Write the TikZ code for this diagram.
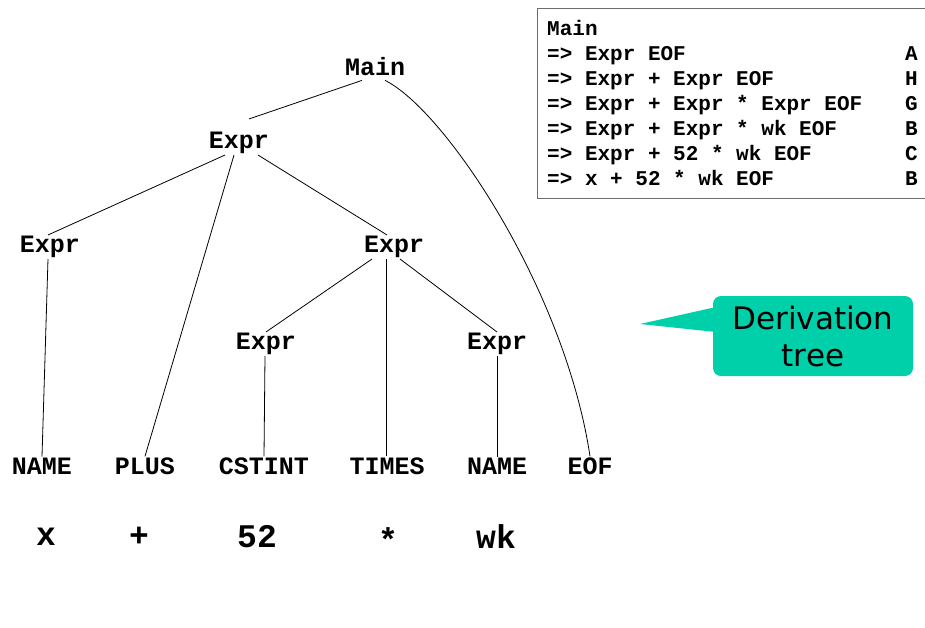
\documentclass[tikz,border=0pt]{standalone}
\usepackage{fontspec}
\setmonofont{Liberation Mono}
\newfontfamily\calloutfont{DejaVu Sans}
\definecolor{callout}{RGB}{0,208,170}
\definecolor{boxline}{RGB}{110,110,110}
\begin{document}
\begin{tikzpicture}[x=1pt,y=-1pt,
  sym/.style={font=\fontsize{25}{28}\selectfont\ttfamily\bfseries,inner sep=1pt},
  tok/.style={font=\fontsize{33}{36}\selectfont\ttfamily\bfseries,inner sep=1pt},
  deriv/.style={font=\fontsize{21}{24}\selectfont\ttfamily\bfseries,anchor=base west,inner sep=0pt},
  edge/.style={draw=black,line width=0.8pt}]
\useasboundingbox (0,0) rectangle (925,627);

% grammar symbols of the tree
\node[sym] (main) at (375,67) {Main};
\node[sym] (e1) at (239,143) {Expr};
\node[sym] (eL) at (50,247) {Expr};
\node[sym] (eR) at (394,247) {Expr};
\node[sym] (eC) at (266,344) {Expr};
\node[sym] (eW) at (497,344) {Expr};
\node[sym] (tName) at (42,466) {NAME};
\node[sym] (tPlus) at (145,466) {PLUS};
\node[sym] (tInt) at (264,466) {CSTINT};
\node[sym] (tTimes) at (387,466) {TIMES};
\node[sym] (tName2) at (497,466) {NAME};
\node[sym] (tEof) at (590,466) {EOF};

% input tokens
\node[tok] (vx) at (46,537) {x};
\node[tok] (vplus) at (139,537) {+};
\node[tok] (v52) at (257,537) {52};
\node[tok] (vtimes) at (388,540) {*};
\node[tok] (vwk) at (496,537) {wk};

% tree edges
\draw[edge] ([shift={(-13,3)}]main.south) -- ([shift={(10,-12)}]e1.north);
\draw[edge] ([shift={(10,3)}]main.south) .. controls (445,110) and (565,290) .. (tEof.north);
\draw[edge] ([xshift=-14pt]e1.south) -- ([xshift=-2pt]eL.north);
\draw[edge] ([xshift=-5pt]e1.south) -- (tPlus.north);
\draw[edge] ([xshift=19pt]e1.south) -- ([xshift=-7pt]eR.north);
\draw[edge] ([xshift=-2pt]eL.south) -- (tName.north);
\draw[edge] ([xshift=-22pt]eR.south) -- (eC.north);
\draw[edge] ([xshift=-8pt]eR.south) -- ([xshift=-1pt]tTimes.north);
\draw[edge] ([xshift=6pt]eR.south) -- (eW.north);
\draw[edge] ([xshift=-1pt]eC.south) -- (tInt.north);
\draw[edge] (eW.south) -- (tName2.north);

% derivation listing
\node[draw=boxline,line width=0.8pt,minimum width=400pt,minimum height=190pt,anchor=north west,inner sep=0pt] (dbox) at (537,8) {};
\node[deriv] (d0) at (547,35) {Main};
\node[deriv] (d1) at (547,60) {=> Expr EOF};
\node[deriv] (d2) at (547,85) {=> Expr + Expr EOF};
\node[deriv] (d3) at (547,110) {=> Expr + Expr * Expr EOF};
\node[deriv] (d4) at (547,135) {=> Expr + Expr * wk EOF};
\node[deriv] (d5) at (547,160) {=> Expr + 52 * wk EOF};
\node[deriv] (d6) at (547,185) {=> x + 52 * wk EOF};
\node[deriv] (r1) at (905,60) {A};
\node[deriv] (r2) at (905,85) {H};
\node[deriv] (r3) at (905,110) {G};
\node[deriv] (r4) at (905,135) {B};
\node[deriv] (r5) at (905,160) {C};
\node[deriv] (r6) at (905,185) {B};

% callout
\coordinate (tip) at (640,324);
\fill[callout] (tip) -- (716,307) -- (716,332) -- cycle;
\node[fill=callout,rounded corners=8pt,minimum width=200pt,minimum height=80pt,inner sep=0pt,
  font=\fontsize{31}{37}\selectfont\calloutfont,align=center] (call) at (813,336) {Derivation\\tree};
\end{tikzpicture}
\end{document}
